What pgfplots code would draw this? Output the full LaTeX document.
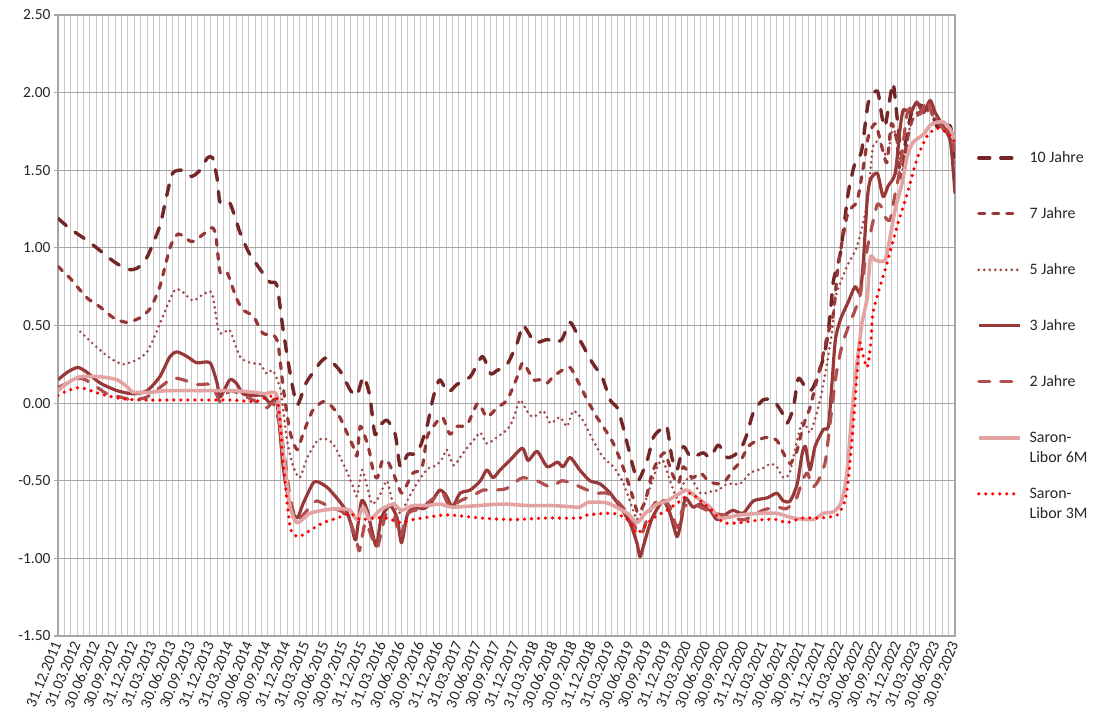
\documentclass[border=0pt]{standalone}
\usepackage{fontspec}
\setmainfont{Carlito}
\usepackage{pgfplots}
\pgfplotsset{compat=1.18}
\definecolor{c10}{HTML}{742626}
\definecolor{c7}{HTML}{983535}
\definecolor{c5}{HTML}{A44545}
\definecolor{c3}{HTML}{993838}
\definecolor{c2}{HTML}{B04E4E}
\definecolor{c6m}{HTML}{E4A3A3}
\definecolor{c3m}{HTML}{FF0000}
\definecolor{gridv}{HTML}{C8C8C8}
\definecolor{gridh}{HTML}{A6A6A6}
\begin{document}
\begin{tikzpicture}
\useasboundingbox (-58bp,-91bp) rectangle (1035bp,636bp);
\begin{axis}[
  at={(0,0)}, anchor=south west,
  scale only axis, width=897bp, height=621bp,
  xmin=0, xmax=141, ymin=-1.5, ymax=2.5,
  ytick={-1.5,-1,-0.5,0,0.5,1,1.5,2,2.5},
  xtick={0,3,...,141},
  minor xtick={0,1,...,141},
  xticklabels={31.12.2011,31.03.2012,30.06.2012,30.09.2012,31.12.2012,31.03.2013,30.06.2013,30.09.2013,31.12.2013,31.03.2014,30.06.2014,30.09.2014,31.12.2014,31.03.2015,30.06.2015,30.09.2015,31.12.2015,31.03.2016,30.06.2016,30.09.2016,31.12.2016,31.03.2017,30.06.2017,30.09.2017,31.12.2017,31.03.2018,30.06.2018,30.09.2018,31.12.2018,31.03.2019,30.06.2019,30.09.2019,31.12.2019,31.03.2020,30.06.2020,30.09.2020,31.12.2020,31.03.2021,30.06.2021,30.09.2021,31.12.2021,31.03.2022,30.06.2022,30.09.2022,31.12.2022,31.03.2023,30.06.2023,30.09.2023},
  xmajorgrids, xminorgrids, ymajorgrids,
  major x grid style={draw=gridv, line width=1bp},
  minor x grid style={draw=gridv, line width=1bp},
  major y grid style={draw=gridh, line width=1.2bp},
  axis line style={draw=gridh, line width=1.2bp},
  tick align=outside,
  xtick style={draw=none}, minor tick length=0pt,
  ytick style={draw=gridh, line width=1.2bp}, major tick length=4bp,
  ytick pos=left,
  /pgf/number format/assume math mode=true,
  yticklabel style={/pgf/number format/.cd, fixed, fixed zerofill, precision=2},
  ticklabel style={font=\fontsize{15.5}{18}\selectfont, text=black!85},
  xticklabel style={rotate=67.5, anchor=east, inner sep=2bp},
  legend style={at={(1.0245,0.778)}, anchor=north west, draw=none, fill=none,
    inner sep=0pt, outer sep=0pt, row sep=46bp, column sep=8bp,
    font=\fontsize{16}{20}\selectfont, text=black!85,
    nodes={inner sep=0pt, text height=10bp, text depth=0bp}},
  legend cell align=left,
  legend image code/.code={\draw[#1] (0bp,0bp) -- (41bp,0bp);},
  every axis plot/.append style={smooth, tension=0.4, line join=round},
]
% 10 Jahre
\addplot[c10, line width=3.4bp, dash pattern=on 11bp off 11bp, line cap=round] coordinates {
(0,1.19) (2,1.12) (4.5,1.05) (7,0.97) (8.5,0.92) (10,0.88) (11.3,0.86) (12.5,0.87) (14,0.94) (16,1.14) (17,1.32) (18,1.48) (19.5,1.50) (21,1.46) (22.3,1.50) (23.5,1.58) (24.3,1.58) (25,1.45) (25.5,1.29) (27,1.29) (28.6,1.10) (30,0.97) (31.8,0.86) (33.3,0.78) (34.4,0.76) (35.4,0.47) (36.5,0.19) (37.6,-0.01) (39,0.13) (41.2,0.26) (42.3,0.29) (44.3,0.21) (46,0.08) (47,0.05) (48,0.17) (49,0.05) (49.8,-0.20) (50.5,-0.15) (51.7,-0.11) (53,-0.20) (53.8,-0.41) (55,-0.33) (56.5,-0.32) (58,-0.15) (59,0.04) (60,0.15) (61.3,0.07) (62.7,0.12) (64.8,0.17) (66.7,0.30) (68,0.19) (69,0.21) (70.6,0.25) (72.2,0.39) (73,0.50) (73.7,0.47) (75,0.39) (76.9,0.41) (77.9,0.39) (79.2,0.41) (80.5,0.52) (82,0.41) (84,0.26) (85.5,0.17) (86.8,0.02) (87.9,-0.03) (88.8,-0.15) (90.4,-0.41) (91.2,-0.50) (92.6,-0.37) (93.6,-0.22) (94.7,-0.17) (95.7,-0.15) (96.5,-0.35) (97.3,-0.43) (98.3,-0.28) (99.5,-0.35) (101.4,-0.32) (102.5,-0.35) (103.8,-0.27) (105.2,-0.35) (106.5,-0.33) (107.5,-0.28) (108.3,-0.20) (109.3,-0.06) (110.8,0.02) (112.4,0.02) (113.8,-0.06) (114.6,-0.13) (115.6,-0.03) (116.4,0.16) (117.8,0.08) (118.7,0.10) (120.1,0.26) (120.9,0.41) (121.4,0.58) (121.9,0.79) (123,0.97) (124.2,1.35) (125.3,1.55) (126.3,1.62) (127.4,1.94) (128.8,2.01) (129.5,1.85) (130,1.78) (130.8,1.97) (131.3,2.06) (132,1.80) (132.7,1.57) (133.5,1.75) (134.4,1.90) (135.5,1.92) (136.6,1.89) (137.5,1.85) (138.2,1.78) (139.2,1.80) (140.3,1.78) (141,1.58)};
\addlegendentry{10 Jahre}
% 7 Jahre
\addplot[c7, line width=3.2bp, dash pattern=on 6bp off 8bp, line cap=round] coordinates {
(0,0.88) (2,0.80) (4.5,0.68) (6.6,0.62) (8.7,0.55) (10.8,0.52) (12.9,0.55) (14.5,0.61) (16,0.75) (17.6,1.00) (18.9,1.09) (21,1.04) (22.6,1.08) (24.2,1.13) (24.8,1.08) (25.5,0.84) (26.6,0.84) (28,0.68) (29.1,0.60) (30.7,0.56) (32.2,0.45) (33.8,0.44) (34.6,0.38) (35.4,0.10) (36.5,-0.19) (37.6,-0.30) (38.5,-0.20) (40,-0.05) (41.7,0.01) (43,-0.02) (44.3,-0.09) (45.4,-0.19) (46.4,-0.28) (47,-0.34) (47.5,-0.15) (48.3,-0.22) (49,-0.32) (49.6,-0.45) (50.2,-0.48) (51,-0.37) (51.9,-0.38) (52.7,-0.45) (54,-0.58) (54.9,-0.52) (55.8,-0.45) (57.2,-0.42) (58,-0.22) (59,-0.15) (60.4,-0.09) (61.6,-0.20) (62.7,-0.15) (64.3,-0.14) (66,0.0) (67.4,-0.09) (69,-0.03) (70.6,0.02) (72.2,0.17) (73,0.26) (73.9,0.21) (74.7,0.15) (75.8,0.15) (76.9,0.13) (77.8,0.17) (79.2,0.21) (80.5,0.23) (81.6,0.15) (83.2,0.02) (84.7,-0.09) (86.3,-0.19) (87.3,-0.26) (88.8,-0.41) (90.4,-0.61) (91.2,-0.71) (92.3,-0.63) (93.4,-0.45) (94.3,-0.37) (95.4,-0.32) (96.5,-0.45) (97.5,-0.52) (98.3,-0.41) (99.7,-0.48) (101,-0.45) (102.2,-0.50) (103.6,-0.52) (104.9,-0.50) (106.1,-0.43) (107.2,-0.38) (108.5,-0.28) (109.9,-0.24) (111.5,-0.22) (113,-0.24) (114,-0.32) (115.1,-0.39) (116.2,-0.30) (117.1,-0.15) (118.2,-0.03) (119.3,0.15) (120.1,0.28) (120.9,0.43) (121.9,0.58) (122.5,0.84) (123.3,1.05) (124.2,1.23) (125.6,1.30) (126.5,1.50) (127.4,1.72) (128.5,1.80) (129.5,1.65) (130.3,1.55) (131,1.80) (131.8,1.70) (132.5,1.45) (133.5,1.70) (134.5,1.85) (136,1.88) (137,1.90) (138.5,1.80) (140,1.75) (141,1.62)};
\addlegendentry{7 Jahre}
% 5 Jahre
\addplot[c5, line width=2.9bp, dash pattern=on 0bp off 5.5bp, line cap=round] coordinates {
(3.5,0.46) (6.1,0.36) (8.2,0.29) (10.2,0.25) (12.4,0.28) (14,0.33) (15.6,0.47) (17.1,0.62) (18.4,0.73) (19.5,0.72) (21.2,0.66) (22.8,0.70) (24.2,0.71) (25.2,0.47) (26,0.45) (27,0.47) (28.6,0.30) (30.2,0.26) (31.8,0.25) (32.8,0.19) (33.8,0.21) (35,0.08) (36,-0.24) (37,-0.41) (38,-0.48) (39.2,-0.35) (40.8,-0.24) (42,-0.23) (43.2,-0.26) (44.5,-0.36) (45.5,-0.45) (46.4,-0.54) (47,-0.60) (47.8,-0.43) (48.6,-0.54) (49.4,-0.65) (50.5,-0.60) (51.7,-0.50) (52.5,-0.62) (53.8,-0.71) (55,-0.62) (55.8,-0.56) (57,-0.48) (58.2,-0.42) (59.5,-0.40) (60.5,-0.35) (61.1,-0.30) (62.2,-0.40) (63.7,-0.32) (65.3,-0.24) (66.4,-0.19) (67.4,-0.26) (69,-0.22) (70.6,-0.17) (71.5,-0.11) (72.6,0.02) (73.7,-0.05) (74.7,-0.09) (76.3,-0.05) (77.4,-0.13) (78.9,-0.09) (80,-0.15) (81,-0.05) (82.5,-0.11) (84.1,-0.24) (85.7,-0.35) (87.3,-0.41) (88.7,-0.50) (89.9,-0.63) (91,-0.75) (92,-0.67) (93.1,-0.54) (94.2,-0.41) (95.1,-0.37) (96.2,-0.50) (97.3,-0.61) (98.3,-0.52) (99.4,-0.48) (101,-0.58) (102.5,-0.57) (103.8,-0.56) (105.2,-0.52) (107.2,-0.52) (108.8,-0.45) (110.8,-0.42) (112,-0.39) (113,-0.41) (114,-0.48) (115,-0.45) (116.2,-0.24) (117.1,-0.11) (118.2,-0.19) (119.3,-0.06) (120.1,0.08) (120.9,0.26) (121.7,0.47) (122.2,0.68) (124,0.88) (125.6,1.01) (127.2,1.29) (128.1,1.65) (129.2,1.68) (130.3,1.59) (131.3,1.78) (132.2,1.60) (133,1.50) (134,1.80) (135.5,1.86) (137,1.88) (138.5,1.80) (140,1.75) (141,1.60)};
\addlegendentry{5 Jahre}
% 3 Jahre
\addplot[c3, line width=3.2bp] coordinates {
(0,0.15) (1.5,0.20) (3.1,0.23) (4.5,0.20) (6.6,0.13) (9.3,0.08) (11.8,0.06) (14,0.08) (16,0.17) (17.6,0.30) (18.7,0.33) (20.3,0.30) (21.8,0.26) (23.9,0.26) (25,0.13) (25.5,0.04) (27,0.15) (28,0.13) (29.1,0.06) (30.7,0.05) (32.2,0.05) (33.3,0.0) (34.4,0.01) (35.4,-0.41) (36.5,-0.67) (37.6,-0.74) (38.5,-0.65) (40.2,-0.51) (41.5,-0.52) (42.5,-0.55) (44,-0.62) (45.4,-0.70) (46.2,-0.80) (46.8,-0.88) (47.7,-0.63) (48.6,-0.69) (50,-0.92) (50.8,-0.74) (52.2,-0.66) (53.3,-0.74) (54,-0.90) (54.9,-0.72) (56,-0.67) (57.4,-0.68) (58.5,-0.65) (60,-0.56) (61.1,-0.60) (62,-0.67) (63.2,-0.58) (64.8,-0.56) (66.4,-0.50) (67.4,-0.43) (68.4,-0.48) (69.5,-0.43) (71,-0.37) (73,-0.29) (73.9,-0.37) (75.3,-0.31) (76.9,-0.41) (78.5,-0.38) (79.4,-0.41) (80.5,-0.35) (82,-0.43) (83.6,-0.50) (85.2,-0.52) (86.8,-0.58) (88.4,-0.67) (89.9,-0.77) (91,-0.90) (91.5,-0.99) (92.3,-0.88) (93.4,-0.74) (95.1,-0.63) (96.2,-0.71) (97.3,-0.86) (98,-0.75) (98.6,-0.61) (99.8,-0.67) (101,-0.65) (102.5,-0.69) (103.6,-0.75) (105.2,-0.71) (106.1,-0.69) (107.7,-0.71) (109.3,-0.63) (111.5,-0.61) (113,-0.58) (114,-0.63) (115.1,-0.63) (116.2,-0.52) (117,-0.32) (117.5,-0.28) (118.2,-0.43) (119,-0.28) (120.3,-0.17) (121.1,-0.15) (121.7,0.15) (122.2,0.41) (123,0.54) (124.2,0.65) (125.3,0.75) (126.1,0.71) (126.6,0.92) (127.2,1.31) (127.7,1.44) (128.8,1.48) (129.7,1.33) (130.5,1.40) (131.6,1.48) (132.4,1.78) (132.9,1.89) (134,1.87) (135,1.94) (136,1.87) (137.1,1.95) (137.9,1.87) (139.2,1.78) (140.3,1.68) (141,1.35)};
\addlegendentry{3 Jahre}
% 2 Jahre
\addplot[c2, line width=3.2bp, dash pattern=on 11bp off 11bp, line cap=round] coordinates {
(0,0.10) (3.5,0.16) (5.5,0.12) (7.7,0.06) (9.7,0.04) (11.8,0.02) (14,0.04) (16,0.10) (18,0.16) (19.7,0.15) (21.8,0.12) (23.9,0.12) (25,0.05) (25.5,0.01) (27,0.08) (28.5,0.06) (30.7,0.02) (32.8,-0.03) (33.8,0.0) (35,-0.17) (36.5,-0.61) (37.6,-0.75) (39.6,-0.67) (40.7,-0.63) (42.8,-0.67) (44.7,-0.70) (46,-0.77) (47,-0.90) (47.4,-0.95) (48.3,-0.77) (49.3,-0.86) (50.2,-0.93) (51.5,-0.72) (52.8,-0.72) (53.8,-0.86) (55,-0.71) (57,-0.68) (58.5,-0.63) (60.4,-0.58) (61.6,-0.67) (63.2,-0.63) (65.9,-0.58) (66.8,-0.56) (68.7,-0.56) (70.5,-0.55) (72.2,-0.50) (73.1,-0.48) (75.3,-0.50) (77.4,-0.54) (79.2,-0.50) (81,-0.52) (83.2,-0.56) (84.7,-0.58) (86.3,-0.58) (87.9,-0.63) (89.5,-0.71) (91,-0.82) (91.8,-0.84) (93.1,-0.69) (94.7,-0.61) (96.2,-0.67) (97.3,-0.80) (98.3,-0.67) (99.8,-0.65) (101.5,-0.68) (103,-0.71) (104.6,-0.72) (106.1,-0.74) (108,-0.75) (110.8,-0.69) (113,-0.67) (114.5,-0.68) (116,-0.62) (117,-0.50) (117.8,-0.45) (118.6,-0.54) (119.5,-0.50) (120.6,-0.38) (121.3,-0.15) (122.3,0.18) (123.3,0.38) (124.5,0.52) (125.3,0.60) (126.1,0.70) (127,0.95) (128,1.15) (128.8,1.28) (129.5,1.26) (130,1.20) (130.8,1.18) (131.6,1.35) (132.4,1.52) (133.5,1.87) (134.5,1.90) (135.5,1.86) (136.6,1.95) (137.5,1.85) (138.5,1.80) (139.5,1.75) (140.5,1.72) (141,1.55)};
\addlegendentry{2 Jahre}
% Saron-Libor 6M
\addplot[c6m, line width=3.6bp] coordinates {
(0,0.08) (1.5,0.13) (3.5,0.17) (6.6,0.17) (9.3,0.15) (11,0.10) (11.8,0.07) (14.5,0.07) (17.1,0.08) (22.3,0.08) (27.5,0.08) (30.7,0.07) (32.5,0.06) (34.4,0.05) (35.4,-0.32) (36.5,-0.67) (37.6,-0.77) (39.6,-0.71) (41.7,-0.69) (43.9,-0.68) (45.9,-0.69) (47,-0.75) (48,-0.67) (49,-0.75) (50.6,-0.69) (52.7,-0.65) (54,-0.69) (55.8,-0.66) (58,-0.66) (60,-0.65) (62,-0.67) (66,-0.66) (70,-0.65) (74,-0.66) (78,-0.66) (82,-0.67) (83.2,-0.64) (86,-0.64) (87.3,-0.66) (89.5,-0.71) (91,-0.77) (92.3,-0.71) (94.2,-0.65) (95.7,-0.63) (97.8,-0.58) (98.9,-0.56) (100.5,-0.61) (102.5,-0.67) (104.1,-0.74) (107.2,-0.72) (110.4,-0.71) (113,-0.71) (115.6,-0.74) (118.7,-0.75) (120.3,-0.71) (121.9,-0.70) (123,-0.65) (123.7,-0.54) (124.2,-0.37) (124.8,-0.06) (125.6,0.26) (126.4,0.52) (127.2,0.68) (127.7,0.94) (128.5,0.92) (130,0.92) (130.8,1.07) (131.6,1.25) (132.7,1.42) (133.5,1.59) (134.4,1.68) (136,1.73) (137.1,1.79) (138.2,1.81) (139.2,1.81) (140.3,1.76) (141,1.68)};
\addlegendentry{\begin{tabular}[t]{@{}l@{}}Saron-\\Libor 6M\end{tabular}}
% Saron-Libor 3M
\addplot[c3m, line width=3.6bp, dash pattern=on 0bp off 7bp, line cap=round] coordinates {
(0,0.05) (1.5,0.08) (3.5,0.10) (6.6,0.06) (9.7,0.03) (12.9,0.02) (20,0.02) (27,0.02) (31,0.01) (34.4,0.03) (35.4,-0.39) (36.5,-0.80) (37.8,-0.86) (39.6,-0.82) (41.7,-0.77) (43.9,-0.74) (45.9,-0.71) (47.5,-0.75) (49.5,-0.74) (51.7,-0.74) (53.8,-0.77) (55.8,-0.75) (61,-0.72) (66.4,-0.74) (71.5,-0.75) (76.9,-0.74) (82,-0.74) (83.2,-0.72) (87.3,-0.71) (89.5,-0.75) (91,-0.84) (92,-0.80) (93.6,-0.74) (95.7,-0.69) (97.8,-0.63) (99.4,-0.58) (101,-0.63) (102.8,-0.69) (104.6,-0.77) (107.2,-0.77) (110.8,-0.75) (113,-0.75) (114.6,-0.77) (117,-0.74) (119.8,-0.74) (122.5,-0.72) (123.7,-0.63) (124.2,-0.50) (124.8,-0.24) (125.3,0.02) (125.8,0.30) (126.1,0.39) (126.6,0.30) (127.2,0.23) (127.7,0.36) (128.1,0.58) (129.2,0.75) (130.3,0.90) (131.9,1.14) (133.5,1.35) (135,1.57) (136.6,1.72) (138.2,1.77) (139.8,1.74) (140.7,1.70) (141,1.68)};
\addlegendentry{\begin{tabular}[t]{@{}l@{}}Saron-\\Libor 3M\end{tabular}}
\end{axis}
\end{tikzpicture}
\end{document}
